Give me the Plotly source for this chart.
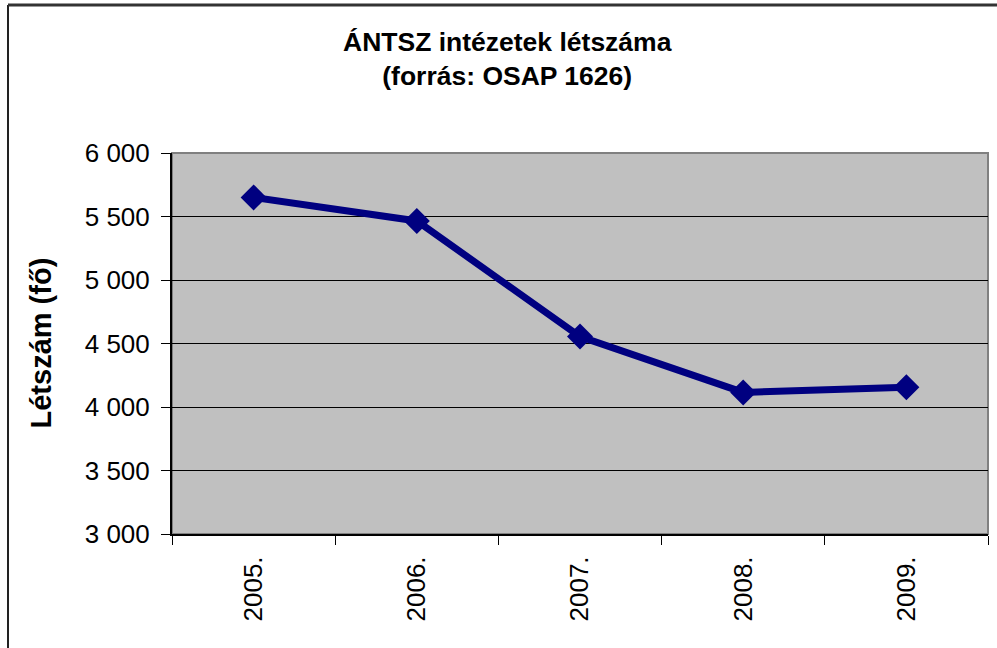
import plotly.graph_objects as go

years = ["2005.", "2006.", "2007.", "2008.", "2009."]
letszam = [5650, 5465, 4555, 4115, 4155]

title_text = "<b>ÁNTSZ intézetek létszáma<br>(forrás: OSAP 1626)</b>"
y_title = "<b>Létszám (fő)</b>"

fig = go.Figure()
fig.add_trace(go.Scatter(
    x=years, y=letszam,
    mode="lines+markers",
    line=dict(color="#000080", width=7),
    marker=dict(symbol="diamond", size=20, color="#000080"),
    hoverinfo="x+y",
))

fig.update_layout(
    width=997, height=648,
    margin=dict(l=172, r=9, t=153, b=114),
    paper_bgcolor="white",
    plot_bgcolor="#C0C0C0",
    separators=". ",
    showlegend=False,
    font=dict(family="Liberation Sans, Arial, sans-serif", color="black"),
    xaxis=dict(
        type="category",
        range=[-0.5, len(years) - 0.5],
        tickson="boundaries",
        ticks="outside", ticklen=9, tickcolor="black", tickwidth=1,
        tickangle=-90,
        tickfont=dict(size=26),
        ticklabelstandoff=10,
        showline=True, linecolor="black", linewidth=2,
        showgrid=False,
    ),
    yaxis=dict(
        range=[3000, 6000], dtick=500, tickformat=",d",
        ticks="outside", ticklen=9, tickcolor="black", tickwidth=1,
        tickfont=dict(size=26),
        ticklabelstandoff=6,
        showline=True, linecolor="black", linewidth=2,
        showgrid=True, gridcolor="black", gridwidth=1,
        zeroline=False,
    ),
    annotations=[
        dict(
            text=title_text,
            xref="paper", yref="paper",
            x=(507 - 172) / 816, y=(534 - 59) / 381,
            xanchor="center", yanchor="middle",
            showarrow=False, font=dict(size=26.5, color="black"),
        ),
        dict(
            text=y_title, textangle=-90,
            xref="paper", yref="paper",
            x=(40 - 172) / 816, y=0.5,
            xanchor="center", yanchor="middle",
            showarrow=False, font=dict(size=29, color="black"),
        ),
    ],
    shapes=[
        # plot area border (gray top/right)
        dict(type="rect", xref="paper", yref="paper", x0=0, x1=1, y0=0, y1=1,
             line=dict(color="#808080", width=2), layer="below"),
        # outer chart frame (left and top visible)
        dict(type="line", xref="paper", yref="paper",
             x0=(8 - 172) / 816, x1=(8 - 172) / 816, y0=(534 - 5) / 381, y1=-0.5,
             line=dict(color="#222222", width=2)),
        dict(type="line", xref="paper", yref="paper",
             x0=(8 - 172) / 816, x1=1.1, y0=(534 - 5) / 381, y1=(534 - 5) / 381,
             line=dict(color="#333333", width=3)),
    ],
)

# drop the default page margin so the figure sits at the window's top-left corner
fig.write_html("out.html", config={"displayModeBar": False},
               post_script="document.body.style.margin='0';")
